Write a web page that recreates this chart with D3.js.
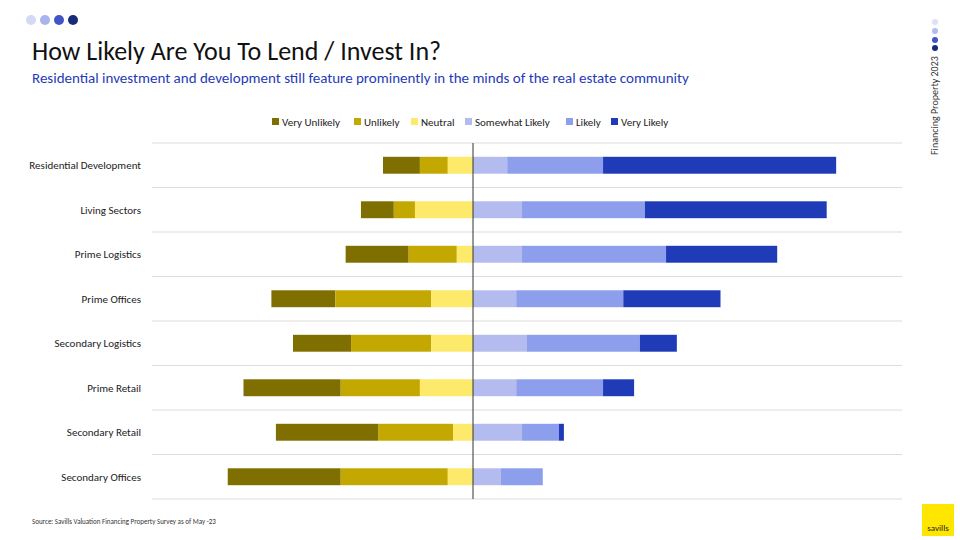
<!DOCTYPE html>
<html><head><meta charset="utf-8">
<script src="https://cdn.jsdelivr.net/npm/d3@7"></script>
<style>body{margin:0;background:#fff}svg{font-family:Calibri,Carlito,"Open Sans",sans-serif}</style>
</head><body><svg width="960" height="540"></svg>
<script>
const categories = ["Residential Development","Living Sectors","Prime Logistics","Prime Offices","Secondary Logistics","Prime Retail","Secondary Retail","Secondary Offices"];
const seriesNames = ["Very Unlikely","Unlikely","Neutral","Somewhat Likely","Likely","Very Likely"];
const veryUnlikely = [8.2,7.3,14,14.2,12.9,21.6,22.7,25.1];
const unlikely = [6.2,4.7,10.7,21.3,17.8,17.6,16.7,23.8];
const neutral = [5.6,12.9,3.6,9.3,9.3,11.8,4.4,5.6];
const somewhatLikely = [7.6,10.9,10.9,9.6,12,9.6,10.9,6.2];
const likely = [21.3,27.3,32,23.8,25.1,19.3,8.2,9.3];
const veryLikely = [51.8,40.4,24.7,21.6,8.2,6.9,1.1,0];
const colors = ["#7f6e00","#c2a800","#fde96a","#b3bbef","#8c9eec","#1f3bb8"];

const svg = d3.select("svg");
const x = d3.scaleLinear().domain([-60,80]).range([203,833]);
const y = d3.scaleBand().domain(categories).range([143,499]).paddingInner(0.62).paddingOuter(0.31);

// header dots
[["#d4d9f6",31],["#a9b3ee",45],["#3f55c8",59],["#1a2a7a",73]].forEach(([c,cx])=>
  svg.append("circle").attr("cx",cx).attr("cy",20).attr("r",5).attr("fill",c));
[["#dde1f7",22],["#b3bbef",31],["#3f55c8",40],["#1a2a7a",48]].forEach(([c,cy])=>
  svg.append("circle").attr("cx",935).attr("cy",cy).attr("r",3).attr("fill",c));
svg.append("text").attr("transform","translate(938,155) rotate(-90)").attr("font-size",10).attr("fill","#333").text("Financing Property 2023");

svg.append("text").attr("x",32).attr("y",60).attr("font-size",26).attr("fill","#111").text("How Likely Are You To Lend / Invest In?");
svg.append("text").attr("x",32).attr("y",83).attr("font-size",15).attr("fill","#1f3bb8").text("Residential investment and development still feature prominently in the minds of the real estate community");

// legend
const lx = [272,354,411,465,566,611];
seriesNames.forEach((s,i)=>{
  svg.append("rect").attr("x",lx[i]).attr("y",118).attr("width",7).attr("height",7).attr("fill",colors[i]);
  svg.append("text").attr("x",lx[i]+10).attr("y",126).attr("font-size",11).attr("fill","#222").text(s);
});

// gridlines
[143,...categories.map(c=>y(c)+y.bandwidth()+y.step()*y.paddingInner()/2)].forEach(v=>
  svg.append("line").attr("x1",152).attr("x2",902).attr("y1",v).attr("y2",v).attr("stroke","#ddd"));

const series = [veryUnlikely,unlikely,neutral,somewhatLikely,likely,veryLikely];
categories.forEach((c,ci)=>{
  // left stack
  let pos = -(veryUnlikely[ci]+unlikely[ci]+neutral[ci]);
  series.forEach((arr,si)=>{
    if(si===3) pos = 0;
    const v = arr[ci];
    svg.append("rect").attr("x",x(pos)).attr("y",y(c)).attr("width",x(pos+v)-x(pos))
      .attr("height",y.bandwidth()).attr("fill",colors[si]);
    pos += v;
  });
  svg.append("text").attr("x",141).attr("y",y(c)+y.bandwidth()/2+4).attr("text-anchor","end")
    .attr("font-size",11).attr("fill","#222").text(c);
});
svg.append("line").attr("x1",x(0)).attr("x2",x(0)).attr("y1",143).attr("y2",499).attr("stroke","#333");

svg.append("text").attr("x",32).attr("y",524).attr("font-size",7).attr("fill","#333").text("Source: Savills Valuation Financing Property Survey as of May -23");
svg.append("rect").attr("x",922).attr("y",504).attr("width",32).attr("height",32).attr("fill","#ffe600");
svg.append("text").attr("x",938).attr("y",531).attr("text-anchor","middle").attr("font-size",9).attr("fill","#222").text("savills");
</script></body></html>
